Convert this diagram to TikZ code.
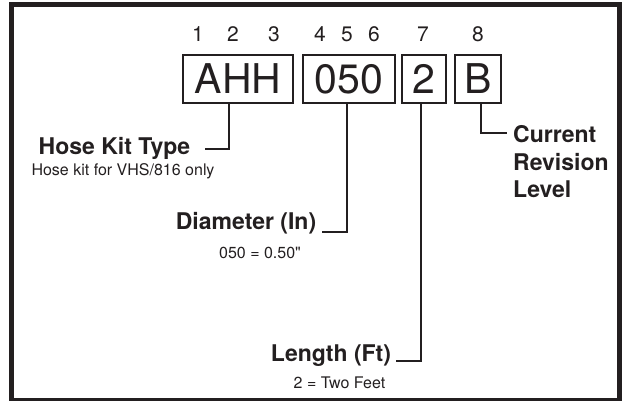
\documentclass[tikz,border=0pt]{standalone}
\usepackage{fontspec}
\setmainfont{TeX Gyre Heros}[Ligatures=TeXOff]
\definecolor{ink}{HTML}{231F20}
\begin{document}
\begin{tikzpicture}[x=1pt,y=-1pt,
  every node/.style={text=ink, inner sep=0pt},
  digit/.style={anchor=base, font=\fontsize{21}{21}\selectfont},
  codebox/.style={draw=ink, line width=2pt, minimum height=48pt, font=\fontsize{41}{41}\selectfont},
  title/.style={font=\fontsize{23}{27.3}\selectfont\bfseries},
  sub/.style={anchor=base, font=\fontsize{16}{16}\selectfont},
  conn/.style={draw=ink, line width=2pt}]
\useasboundingbox (0,0) rectangle (626,400);
\draw[ink, line width=5pt] (11.5,4.5) rectangle (619.5,400);
% digits
\node[digit] (d1) at (198,41.7) {1};
\node[digit] (d2) at (233,41.7) {2};
\node[digit] (d3) at (274,41.7) {3};
\node[digit] (d4) at (320,41.7) {4};
\node[digit] (d5) at (347,41.7) {5};
\node[digit] (d6) at (374,41.7) {6};
\node[digit] (d7) at (423,41.7) {7};
\node[digit] (d8) at (478,41.7) {8};
% boxes
\node[codebox, minimum width=110pt] (ahh) at (238,79) {AHH};
\node[codebox, minimum width=92pt] (num) at (349,79) {050};
\node[codebox, minimum width=44pt] (len) at (424,79) {2};
\node[codebox, minimum width=46pt] (rev) at (478,79) {B};
% labels
\node[title, anchor=base] (hkt) at (114.5,154) {Hose Kit Type};
\node[sub] (hkts) at (123,175.7) {Hose kit for VHS/816 only};
\node[title, anchor=base] (dia) at (246,229.5) {Diameter (In)};
\node[sub] (dias) at (260,258) {050 = 0.50"};
\node[title, anchor=base] (lft) at (331,361.7) {Length (Ft)};
\node[sub] (lfts) at (339.5,388) {2 = Two Feet};
\node[title, anchor=base west, align=left] (crl) at (513,197.3) {Current\\Revision\\Level};
% connector knees
\coordinate (k1) at (229,149);
\coordinate (k2) at (347,232);
\coordinate (k3) at (421,361);
\coordinate (k4) at (481,133);
\draw[conn] (ahh.south -| k1) -- (k1) -- ([xshift=15pt]hkt.east |- k1);
\draw[conn] (num.south -| k2) -- (k2) -- ([xshift=6pt]dia.east |- k2);
\draw[conn] (len.south -| k3) -- (k3) -- ([xshift=5pt]lft.east |- k3);
\draw[conn] (rev.south -| k4) -- (k4) -- ([xshift=-6pt]crl.west |- k4);
\end{tikzpicture}
\end{document}
